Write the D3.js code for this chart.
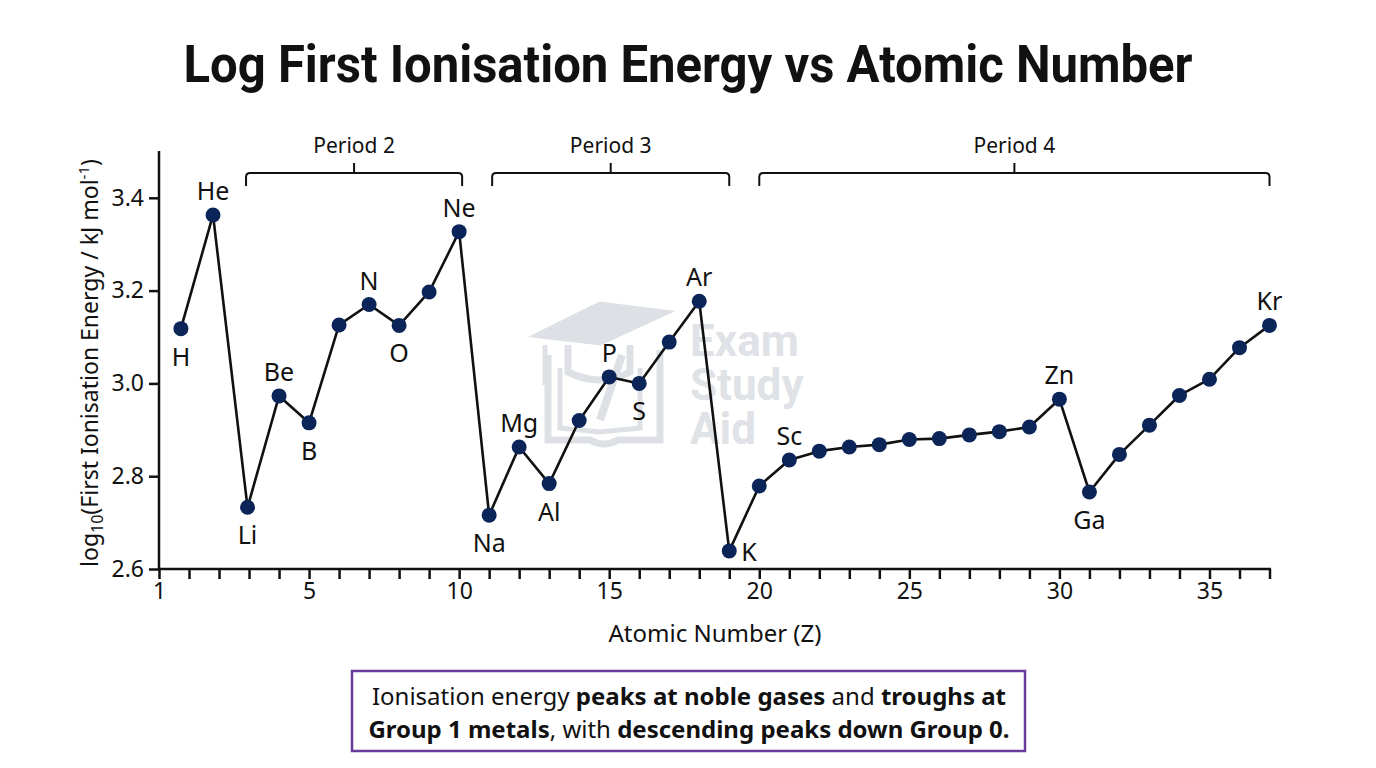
<!DOCTYPE html>
<html>
<head>
<meta charset="utf-8">
<script src="https://cdn.jsdelivr.net/npm/d3@7"></script>
<style>
  body { margin: 0; background: #fff; }
  svg text { font-family: "Noto Sans", "Open Sans", sans-serif; fill: #111; }
</style>
</head>
<body>
<div id="main"></div>
<script>
// data
const symbols = ["H","He","Li","Be","B","C","N","O","F","Ne",
  "Na","Mg","Al","Si","P","S","Cl","Ar","K","Ca",
  "Sc","Ti","V","Cr","Mn","Fe","Co","Ni","Cu","Zn",
  "Ga","Ge","As","Se","Br","","Kr"];
const zValues = [0.73, 1.8, 2.95, 4, 5, 6, 7, 8, 9, 10,
  11, 12, 13, 14, 15, 16, 17, 18, 19, 20,
  21, 22, 23, 24, 25, 26, 27, 28, 29, 30,
  31, 32, 33, 34, 35, 36, 37];
const logIE = [3.118, 3.363, 2.733, 2.973, 2.915, 3.126, 3.170, 3.125, 3.197, 3.327,
  2.716, 2.863, 2.784, 2.920, 3.014, 3.000, 3.089, 3.177, 2.639, 2.779,
  2.835, 2.854, 2.863, 2.868, 2.879, 2.881, 2.889, 2.896, 2.906, 2.966,
  2.766, 2.847, 2.910, 2.974, 3.009, 3.077, 3.125];
const yTicks = [2.6, 2.8, 3.0, 3.2, 3.4];
const xTickLabels = {0: "1", 5: "5", 10: "10", 15: "15", 20: "20", 25: "25", 30: "30", 35: "35"};
const periodNames = ["Period 2", "Period 3", "Period 4"];
const periodStart = [2.9, 11.1, 20];
const periodEnd = [10.1, 19, 37];

// where each element label sits
const labelPos = {H: "below", He: "above", Li: "below", Be: "above", B: "below", N: "above",
  O: "below", Ne: "above", Na: "below", Mg: "above", Al: "below", P: "above", S: "below",
  Ar: "above", K: "right", Sc: "above", Zn: "above", Ga: "below", Kr: "above"};

const svg = d3.select("#main").append("svg")
  .attr("width", 1376).attr("height", 768);

const xScale = d3.scaleLinear().domain([0, 37.05]).range([159, 1271]);
const yScale = d3.scaleLinear().domain([2.6, 3.5]).range([569, 151.4]);

// title
svg.append("text")
   .attr("x", 688).attr("y", 82)
   .attr("text-anchor", "middle")
   .attr("textLength", 1009).attr("lengthAdjust", "spacingAndGlyphs")
   .style("font-family", "Roboto, sans-serif")
   .style("font-weight", 700).style("font-size", "52px")
   .text("Log First Ionisation Energy vs Atomic Number");

// watermark
const wm = svg.append("g").attr("fill", "none").attr("stroke", "#dde1e5").attr("stroke-width", 7);
wm.append("path").attr("d", "M540,335 L600,305 L663,313 L600,342 Z").attr("fill", "#dde1e5");
wm.append("path").attr("d", "M568,345 L568,372 Q600,388 630,372 L630,345");
wm.append("path").attr("d", "M545,345 L545,385").attr("stroke-width", 5);
wm.append("path").attr("d", "M548,355 L548,440 L590,440 Q604,448 618,440 L660,440 L660,350");
wm.append("path").attr("d", "M560,368 L560,428 L600,432 L640,428 L640,368").attr("stroke-width", 5);
wm.append("path").attr("d", "M600,420 L622,355").attr("stroke-width", 8);
["Exam", "Study", "Aid"].forEach((w, i) => {
  svg.append("text")
     .attr("x", 690).attr("y", 356 + i * 44)
     .style("font-family", "Roboto, sans-serif")
     .style("font-weight", 700).style("font-size", "44px")
     .style("fill", "#dfe2e6")
     .text(w);
});

// axes
const xAxis = d3.axisBottom(xScale)
  .tickValues(d3.range(0, 38))
  .tickSize(10).tickSizeOuter(0).tickPadding(4)
  .tickFormat(d => xTickLabels[d] || "");
const yAxis = d3.axisLeft(yScale)
  .tickValues(yTicks)
  .tickSize(10).tickSizeOuter(0).tickPadding(5)
  .tickFormat(d3.format(".1f"));

const gx = svg.append("g").attr("transform", "translate(0,569)").call(xAxis);
const gy = svg.append("g").attr("transform", "translate(159,0)").call(yAxis);
[gx, gy].forEach(g => {
  g.select(".domain").attr("stroke", "#111").attr("stroke-width", 2.5);
  g.selectAll(".tick line").attr("stroke", "#111").attr("stroke-width", 2.5);
  g.selectAll(".tick text").style("font-size", "23px").attr("fill", "#111");
});
gx.select(".domain").attr("d", "M159,0H1271");
gy.select(".domain").attr("d", "M0,569V151");

svg.append("text")
   .attr("x", 715).attr("y", 642)
   .attr("text-anchor", "middle")
   .style("font-size", "24px")
   .text("Atomic Number (Z)");

const yl = svg.append("text")
   .attr("transform", "translate(98,363) rotate(-90)")
   .attr("text-anchor", "middle")
   .style("font-size", "23px");
yl.append("tspan").text("log");
yl.append("tspan").attr("dy", 5).style("font-size", "16px").text("10");
yl.append("tspan").attr("dy", -5).text("(First Ionisation Energy / kJ mol");
yl.append("tspan").attr("dy", -9).style("font-size", "15px").text("-1");
yl.append("tspan").attr("dy", 9).text(")");

// period brackets
periodNames.forEach((name, i) => {
  const x0 = xScale(periodStart[i]), x1 = xScale(periodEnd[i]);
  const xm = (x0 + x1) / 2;
  svg.append("path")
     .attr("d", `M${x0},186 V177 Q${x0},173 ${x0 + 4},173 H${x1 - 4} Q${x1},173 ${x1},177 V186 M${xm},173 V163`)
     .attr("fill", "none").attr("stroke", "#111").attr("stroke-width", 2);
  svg.append("text")
     .attr("x", xm).attr("y", 153)
     .attr("text-anchor", "middle")
     .style("font-size", "21px")
     .text(name);
});

// line and points
const pts = zValues.map((z, i) => ({ z: z, v: logIE[i], s: symbols[i] }));

svg.append("path")
   .datum(pts)
   .attr("fill", "none").attr("stroke", "#111").attr("stroke-width", 2.6)
   .attr("stroke-linejoin", "round")
   .attr("d", d3.line().x(d => xScale(d.z)).y(d => yScale(d.v)));

svg.selectAll(".dot")
   .data(pts)
   .enter()
   .append("circle")
   .attr("class", "dot")
   .attr("cx", d => xScale(d.z))
   .attr("cy", d => yScale(d.v))
   .attr("r", 7.5)
   .attr("fill", "#0b2559");

svg.selectAll(".lbl")
   .data(pts.filter(d => labelPos[d.s]))
   .enter()
   .append("text")
   .attr("class", "lbl")
   .attr("x", d => labelPos[d.s] === "right" ? xScale(d.z) + 12 : xScale(d.z))
   .attr("y", d => {
     const p = labelPos[d.s];
     if (p === "above") return yScale(d.v) - 15;
     if (p === "below") return yScale(d.v) + 37;
     return yScale(d.v) + 10;
   })
   .attr("text-anchor", d => labelPos[d.s] === "right" ? "start" : "middle")
   .style("font-size", "25px")
   .text(d => d.s);

// note box
svg.append("rect")
   .attr("x", 352).attr("y", 671).attr("width", 673).attr("height", 80)
   .attr("fill", "#fff").attr("stroke", "#6a3d9a").attr("stroke-width", 2.5);

const noteLines = [
  [["Ionisation energy ", 400], ["peaks at noble gases", 700], [" and ", 400], ["troughs at", 700]],
  [["Group 1 metals", 700], [", with ", 400], ["descending peaks down Group 0.", 700]]
];
noteLines.forEach((line, i) => {
  const t = svg.append("text")
     .attr("x", 689).attr("y", 705 + i * 33)
     .attr("text-anchor", "middle")
     .style("font-size", "24px");
  line.forEach(p => t.append("tspan").style("font-weight", p[1]).text(p[0]));
});
</script>
</body>
</html>
